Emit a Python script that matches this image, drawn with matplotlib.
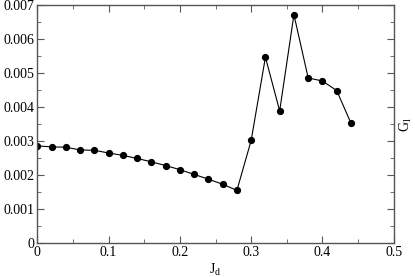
import numpy as np
import matplotlib.pyplot as plt
from matplotlib.ticker import MultipleLocator

plt.rcParams['font.family'] = ['Liberation Serif', 'DejaVu Serif']

jd = [0.00, 0.02, 0.04, 0.06, 0.08, 0.10, 0.12, 0.14, 0.16, 0.18, 0.20, 0.22,
      0.24, 0.26, 0.28, 0.30, 0.32, 0.34, 0.36, 0.38, 0.40, 0.42, 0.44]
gl = [0.00286, 0.00283, 0.00282, 0.00274, 0.00273, 0.00265, 0.00258, 0.00249,
      0.00239, 0.00228, 0.00216, 0.00202, 0.00188, 0.00173, 0.00155, 0.00302,
      0.00547, 0.00389, 0.00672, 0.00486, 0.00477, 0.00449, 0.00353]

xticks = [0, 0.1, 0.2, 0.3, 0.4, 0.5]
xtick_labels = ['0', '0.1', '0.2', '0.3', '0.4', '0.5']
yticks = [0, 0.001, 0.002, 0.003, 0.004, 0.005, 0.006, 0.007]
ytick_labels = ['0', '0.001', '0.002', '0.003', '0.004', '0.005', '0.006',
                '0.007']


def run():
    fig = plt.figure(figsize=(4.15, 2.77), dpi=100)
    ax = fig.add_axes([0.09, 0.1227, 0.8587, 0.8583])

    ax.plot(jd, gl, color='black', lw=0.8, marker='o', ms=4.2)

    ax.set_xticks(xticks, xtick_labels)
    ax.set_yticks(yticks, ytick_labels)
    ax.xaxis.set_minor_locator(MultipleLocator(0.05))
    ax.yaxis.set_minor_locator(MultipleLocator(0.0005))
    ax.set_xlim(0, 0.5)
    ax.set_ylim(0, 0.007)
    ax.tick_params(which='both', direction='in', top=True, right=True,
                   labelsize=10, color='#555555', pad=2)
    ax.tick_params(which='major', length=5)
    ax.tick_params(which='minor', length=3)
    for s in ax.spines.values():
        s.set_color('#555555')
        s.set_linewidth(1.0)

    ax.set_xlabel(r'J$_\mathregular{d}$', fontsize=10, labelpad=2)
    ax.yaxis.set_label_position('right')
    ax.set_ylabel(r'G$_\mathregular{l}$', fontsize=10, labelpad=3)

    fig.savefig('out.png', dpi=100)


run()
